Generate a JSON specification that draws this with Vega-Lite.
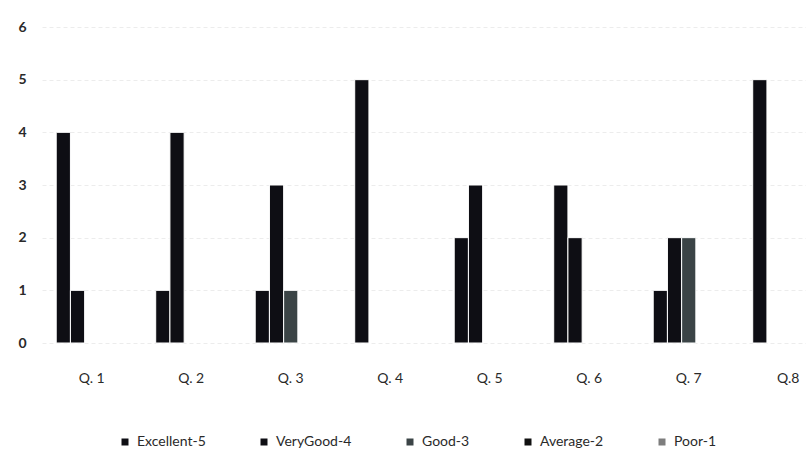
{
  "$schema": "https://vega.github.io/schema/vega-lite/v6.json",
  "autosize": {"type": "none"},
  "width": 764,
  "height": 316,
  "padding": {"left": 42, "top": 27, "right": 0, "bottom": 115},
  "background": "white",
  "config": {
    "view": {"stroke": null},
    "font": "Lato"
  },
  "data": {
    "values": [
      {"question": "Q. 1", "rating": "Excellent-5", "count": 4},
      {"question": "Q. 1", "rating": "VeryGood-4", "count": 1},
      {"question": "Q. 2", "rating": "Excellent-5", "count": 1},
      {"question": "Q. 2", "rating": "VeryGood-4", "count": 4},
      {"question": "Q. 3", "rating": "Excellent-5", "count": 1},
      {"question": "Q. 3", "rating": "VeryGood-4", "count": 3},
      {"question": "Q. 3", "rating": "Good-3", "count": 1},
      {"question": "Q. 4", "rating": "Excellent-5", "count": 5},
      {"question": "Q. 5", "rating": "Excellent-5", "count": 2},
      {"question": "Q. 5", "rating": "VeryGood-4", "count": 3},
      {"question": "Q. 6", "rating": "Excellent-5", "count": 3},
      {"question": "Q. 6", "rating": "VeryGood-4", "count": 2},
      {"question": "Q. 7", "rating": "Excellent-5", "count": 1},
      {"question": "Q. 7", "rating": "VeryGood-4", "count": 2},
      {"question": "Q. 7", "rating": "Good-3", "count": 2},
      {"question": "Q.8", "rating": "Excellent-5", "count": 5}
    ]
  },
  "mark": {"type": "bar", "stroke": "white", "strokeWidth": 1},
  "encoding": {
    "x": {
      "field": "question",
      "type": "nominal",
      "sort": null,
      "scale": {"domain": ["Q. 1", "Q. 2", "Q. 3", "Q. 4", "Q. 5", "Q. 6", "Q. 7", "Q.8"], "paddingInner": 0, "paddingOuter": 0, "rangeMax": 796},
      "axis": {
        "title": null,
        "labelAngle": 0,
        "domain": false,
        "ticks": false,
        "labelPadding": 28,
        "labelFontSize": 14,
        "labelColor": "#2a2a2a",
        "labelFont": "Lato"
      }
    },
    "xOffset": {
      "field": "rating",
      "type": "nominal",
      "scale": {"domain": ["Excellent-5", "VeryGood-4", "Good-3", "Average-2", "Poor-1"], "paddingInner": 0, "paddingOuter": 1}
    },
    "y": {
      "field": "count",
      "type": "quantitative",
      "scale": {"domain": [0, 6], "nice": false},
      "axis": {
        "title": null,
        "values": [0, 1, 2, 3, 4, 5, 6],
        "domain": false,
        "ticks": false,
        "labelPadding": 16,
        "labelFontSize": 14,
        "labelFontWeight": "bold",
        "labelColor": "#2a2a2a",
        "gridColor": "#ececec",
        "gridDash": [4, 3],
        "gridWidth": 1
      }
    },
    "color": {
      "field": "rating",
      "type": "nominal",
      "scale": {
        "domain": ["Excellent-5", "VeryGood-4", "Good-3", "Average-2", "Poor-1"],
        "range": ["#0e0e14", "#0e0e14", "#3b4446", "#111111", "#7d7d7d"]
      },
      "legend": {
        "title": null,
        "orient": "none",
        "direction": "horizontal",
        "legendX": 76,
        "legendY": 408,
        "symbolType": "square",
        "symbolSize": 49,
        "symbolStrokeWidth": 0,
        "labelFontSize": 14,
        "labelColor": "#2a2a2a",
        "labelOffset": 5,
        "columnPadding": 51
      }
    }
  }
}
